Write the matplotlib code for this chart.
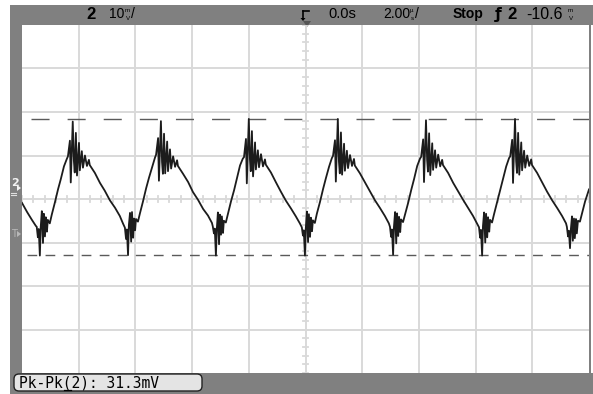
import matplotlib.pyplot as plt
import matplotlib.patches as mpatches
import numpy as np

W, H = 593, 394

# scope settings (10 mV/div, 2 us/div, 10 x 8 divisions)
time_div = 2.0
volt_div = 10.0
cursor_hi = 18.4   # mV, upper Y cursor
cursor_lo = -12.9  # mV, lower Y cursor

# trace: (time in us, level in mV from screen centre)
lead_in = [(-10.00, -0.9), (-9.82, -3.0), (-9.65, -4.8), (-9.51, -6.2)]
cycle_1 = [(-9.48, -6.4), (-9.44, -8.8), (-9.41, -6.9), (-9.37, -13.0), (-9.34, -6.5), (-9.30, -2.8),
           (-9.26, -10.1), (-9.23, -3.4), (-9.19, -8.6), (-9.16, -4.2), (-9.12, -7.5), (-9.09, -4.8),
           (-9.02, -5.6), (-8.95, -3.6), (-8.84, -0.8), (-8.73, 2.2), (-8.63, 4.6), (-8.52, 7.5),
           (-8.42, 9.2), (-8.38, 9.8), (-8.31, 13.4), (-8.28, 3.8), (-8.21, 17.8), (-8.17, 8.8),
           (-8.14, 6.1), (-8.10, 15.2), (-8.06, 5.4), (-7.99, 12.9), (-7.96, 6.6), (-7.89, 11.0),
           (-7.85, 7.2), (-7.78, 10.0), (-7.71, 7.6), (-7.64, 9.0), (-7.61, 7.8), (-7.43, 6.0),
           (-7.25, 3.7), (-7.08, 1.9), (-6.90, -0.3), (-6.72, -2.0), (-6.55, -3.9), (-6.44, -5.6)]
cycle_2 = [(-6.37, -6.6), (-6.33, -9.2), (-6.30, -7.0), (-6.26, -12.9), (-6.23, -6.0), (-6.19, -3.2),
           (-6.15, -9.8), (-6.12, -3.0), (-6.08, -8.9), (-6.05, -4.5), (-6.01, -7.2), (-5.98, -4.6),
           (-5.91, -5.2), (-5.84, -3.3), (-5.73, -0.5), (-5.62, 2.5), (-5.52, 4.9), (-5.41, 7.3),
           (-5.31, 9.5), (-5.27, 10.2), (-5.20, 14.0), (-5.17, 4.2), (-5.10, 17.9), (-5.06, 8.5),
           (-5.03, 5.8), (-4.99, 15.0), (-4.95, 5.9), (-4.88, 13.2), (-4.85, 6.4), (-4.78, 11.4),
           (-4.74, 7.0), (-4.67, 9.8), (-4.60, 7.4), (-4.53, 8.9), (-4.50, 7.6), (-4.32, 5.8),
           (-4.14, 3.9), (-3.97, 1.6), (-3.79, -0.2), (-3.61, -2.3), (-3.44, -3.8), (-3.30, -5.5)]
cycle_3 = [(-3.27, -6.3), (-3.23, -7.9), (-3.20, -6.8), (-3.16, -13.0), (-3.13, -7.1), (-3.09, -3.1),
           (-3.05, -10.4), (-3.02, -3.6), (-2.98, -8.2), (-2.95, -4.0), (-2.91, -7.8), (-2.88, -5.0),
           (-2.81, -5.4), (-2.74, -3.5), (-2.63, -0.6), (-2.52, 2.0), (-2.42, 4.7), (-2.31, 7.7),
           (-2.21, 9.3), (-2.17, 9.6), (-2.10, 13.8), (-2.07, 3.6), (-2.00, 18.4), (-1.96, 9.2),
           (-1.93, 6.4), (-1.89, 15.6), (-1.85, 5.2), (-1.78, 13.0), (-1.75, 6.8), (-1.68, 11.2),
           (-1.64, 7.3), (-1.57, 10.3), (-1.50, 7.5), (-1.43, 9.1), (-1.40, 7.9), (-1.22, 6.1),
           (-1.04, 3.8), (-0.87, 1.7), (-0.69, -0.4), (-0.51, -2.2), (-0.34, -4.0), (-0.20, -5.6)]
cycle_4 = [(-0.13, -6.5), (-0.09, -8.4), (-0.06, -7.2), (-0.02, -13.0), (0.01, -6.8), (0.05, -2.9),
           (0.09, -9.9), (0.12, -3.5), (0.16, -8.7), (0.19, -4.3), (0.23, -7.4), (0.26, -4.9),
           (0.33, -5.5), (0.40, -3.4), (0.51, -0.7), (0.62, 2.3), (0.72, 4.8), (0.83, 7.4),
           (0.93, 9.4), (0.97, 9.9), (1.04, 13.5), (1.07, 4.0), (1.14, 18.4), (1.18, 8.6),
           (1.21, 5.9), (1.25, 15.3), (1.29, 5.6), (1.36, 12.7), (1.39, 6.5), (1.46, 11.1),
           (1.50, 7.1), (1.57, 10.1), (1.64, 7.6), (1.71, 9.2), (1.74, 7.7), (1.92, 5.9),
           (2.10, 3.8), (2.27, 1.8), (2.45, -0.3), (2.63, -2.1), (2.80, -3.9), (2.94, -5.6)]
cycle_5 = [(2.98, -6.4), (3.02, -8.7), (3.05, -7.0), (3.09, -12.8), (3.12, -6.4), (3.16, -3.0),
           (3.20, -10.2), (3.23, -3.3), (3.27, -8.5), (3.30, -4.1), (3.34, -7.6), (3.37, -4.7),
           (3.44, -5.3), (3.51, -3.6), (3.62, -0.9), (3.73, 2.1), (3.83, 4.6), (3.94, 7.6),
           (4.04, 9.3), (4.08, 9.7), (4.15, 13.7), (4.18, 3.9), (4.25, 18.1), (4.29, 9.0),
           (4.32, 6.3), (4.36, 15.1), (4.40, 5.5), (4.47, 12.8), (4.50, 6.7), (4.57, 11.2),
           (4.61, 7.2), (4.68, 10.2), (4.75, 7.5), (4.82, 9.0), (4.85, 7.8), (5.03, 6.0),
           (5.21, 3.7), (5.38, 1.8), (5.56, -0.2), (5.74, -2.1), (5.91, -3.9), (6.05, -5.6)]
cycle_6 = [(6.12, -6.5), (6.16, -8.9), (6.19, -7.1), (6.23, -13.0), (6.26, -6.2), (6.30, -3.1),
           (6.34, -10.0), (6.37, -3.4), (6.41, -8.8), (6.44, -4.2), (6.48, -7.5), (6.51, -4.8),
           (6.58, -5.4), (6.65, -3.5), (6.76, -0.7), (6.87, 2.2), (6.97, 4.7), (7.08, 7.5),
           (7.18, 9.4), (7.22, 9.8), (7.29, 13.6), (7.32, 3.7), (7.39, 18.4), (7.43, 8.7),
           (7.46, 6.0), (7.50, 15.2), (7.54, 5.6), (7.61, 13.0), (7.64, 6.6), (7.71, 11.1),
           (7.75, 7.2), (7.82, 10.0), (7.89, 7.6), (7.96, 9.1), (7.99, 7.8), (8.17, 6.0),
           (8.35, 3.8), (8.52, 1.7), (8.70, -0.3), (8.88, -2.1), (9.05, -3.9), (9.19, -5.6)]
tail = [(9.22, -6.4), (9.26, -8.6), (9.29, -7.3), (9.33, -11.3), (9.36, -7.0), (9.40, -4.0),
        (9.43, -9.6), (9.47, -4.5), (9.50, -9.0), (9.54, -4.6), (9.57, -7.9), (9.61, -5.0),
        (9.68, -5.2), (9.75, -3.4), (9.86, -0.6), (10.00, 2.2)]

trace = lead_in + cycle_1 + cycle_2 + cycle_3 + cycle_4 + cycle_5 + cycle_6 + tail
wave_t = [p[0] for p in trace]
wave_v = [p[1] for p in trace]

frame_c = '#808080'
grid_c = '#d9d9d9'
sans = 'Liberation Sans'

fig = plt.figure(figsize=(W / 100, H / 100), dpi=100)

# background "chrome" in pixel coordinates
bg = fig.add_axes([0, 0, 1, 1])
bg.set_xlim(0, W)
bg.set_ylim(H, 0)
bg.axis('off')
bg.add_patch(mpatches.Rectangle((10, 5), W - 10, H - 5, color=frame_c, lw=0))
bg.add_patch(mpatches.Rectangle((22, 25), 567, 348, color='white', lw=0))
bg.add_patch(mpatches.Rectangle((591, 25), 2, 348, color='white', lw=0))

# top status line
ty = 14
bg.text(86, ty, '2', fontsize=12, fontweight='bold', family=sans, va='center', ha='left')
bg.text(109, ty, '10', fontsize=10, family=sans, va='center', ha='left')
bg.text(125, ty - 4, 'm', fontsize=4.5, family=sans, va='center', ha='left')
bg.text(125.5, ty + 4, 'V', fontsize=4.5, family=sans, va='center', ha='left')
bg.text(131, ty, '/', fontsize=10, family=sans, va='center', ha='left')

bg.plot([303, 309], [11, 11], color='black', lw=1.2)
bg.plot([303, 303], [11, 19], color='black', lw=1.2)
bg.add_patch(mpatches.Polygon([[300.5, 18], [305.5, 18], [303, 21]], color='black', lw=0))
bg.add_patch(mpatches.Polygon([[303, 21], [311, 21], [307, 27]], color='#555555', lw=0, zorder=5))

bg.text(328, ty, '0.0s', fontsize=10.5, family=sans, va='center', ha='left')
bg.text(383, ty, '2.00', fontsize=10, family=sans, va='center', ha='left')
bg.text(410, ty - 4, 'µ', fontsize=4.5, family=sans, va='center', ha='left')
bg.text(410.5, ty + 4, 's', fontsize=4.5, family=sans, va='center', ha='left')
bg.text(415, ty, '/', fontsize=10, family=sans, va='center', ha='left')
bg.text(453, ty, 'Stop', fontsize=10, fontweight='bold', family=sans, va='center', ha='left')
bg.text(495, ty, 'ƒ', fontsize=11, fontweight='bold', va='center', ha='left')
bg.text(507, ty, '2', fontsize=12, fontweight='bold', family=sans, va='center', ha='left')
bg.text(526, ty, '-10.6', fontsize=11.5, family=sans, va='center', ha='left')
bg.text(568, ty - 4, 'm', fontsize=4.5, family=sans, va='center', ha='left')
bg.text(568.5, ty + 4, 'V', fontsize=4.5, family=sans, va='center', ha='left')

# left edge markers (channel 2 ground, trigger level)
bg.text(11, 183, '2', fontsize=8, fontweight='bold', color='#f2f2f2', va='center', ha='left')
bg.add_patch(mpatches.Polygon([[17, 185], [17, 191], [21, 188]], color='#f2f2f2', lw=0))
bg.plot([11, 16], [192.5, 192.5], color='#e0e0e0', lw=0.8)
bg.plot([11, 16], [195, 195], color='#e0e0e0', lw=0.8)
bg.text(11, 234, 'T', fontsize=7, color='#b8b8b8', va='center', ha='left')
bg.add_patch(mpatches.Polygon([[17, 231], [17, 237], [21, 234]], color='#b8b8b8', lw=0))

# measurement box
box = mpatches.FancyBboxPatch((14, 374), 188, 17, boxstyle='round,pad=0,rounding_size=5',
                              facecolor='#e4e4e4', edgecolor='#222222', lw=1.0)
bg.add_patch(box)
bg.text(19, 383, 'Pk-Pk(2): 31.3mV', fontsize=10.5, family='DejaVu Sans Mono',
        va='center', ha='left')
bg.plot([64, 71], [390, 390], color='black', lw=0.9)

# scope screen
ax = fig.add_axes([22 / W, 1 - 373 / H, 567 / W, 348 / H])
ax.set_facecolor('none')
ax.set_xlim(-5 * time_div, 5 * time_div)
ax.set_ylim(-4 * volt_div, 4 * volt_div)
ax.set_xticks([])
ax.set_yticks([])
for s in ax.spines.values():
    s.set_visible(False)

for gx in np.arange(-4, 5) * time_div:
    ax.axvline(gx, color=grid_c, lw=1.4, zorder=1)
for gy in np.arange(-3, 4) * volt_div:
    ax.axhline(gy, color=grid_c, lw=1.4, zorder=1)
for mx in np.arange(-25, 26) * time_div / 5:
    ax.plot([mx, mx], [-0.7, 0.7], color=grid_c, lw=1.3, zorder=1)
for my in np.arange(-20, 21) * volt_div / 5:
    ax.plot([-0.1, 0.1], [my, my], color=grid_c, lw=1.3, zorder=1)

# Y cursors
ax.plot([-9.68, 10], [cursor_hi, cursor_hi], color='#5a5a5a', lw=1.0, dashes=(13, 13), zorder=2)
ax.plot([-9.82, 10], [cursor_lo, cursor_lo], color='#5a5a5a', lw=1.0, dashes=(7, 6), zorder=2)

ax.plot(wave_t, wave_v, color='#1c1c1c', lw=1.3, zorder=3)

plt.savefig('out.png', dpi=100)
